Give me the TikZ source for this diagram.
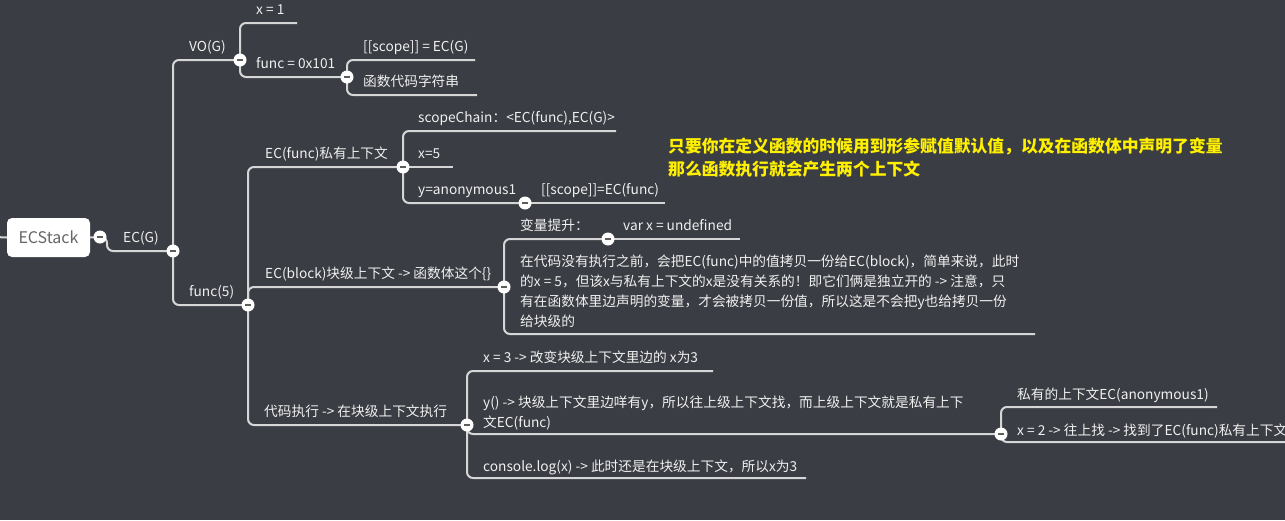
\documentclass[tikz,border=0pt]{standalone}
\usepackage{fontspec}
\setmainfont{Noto Sans CJK SC}
\definecolor{canvas}{HTML}{3A3D43}
\definecolor{wirecol}{HTML}{D6D6D6}
\definecolor{ink}{HTML}{F0F0F0}
\definecolor{rootink}{HTML}{666666}
\definecolor{knobbar}{HTML}{5C5C5C}
\definecolor{hint}{HTML}{FFF000}
\pgfdeclarelayer{back}
\pgfdeclarelayer{wires}
\pgfsetlayers{back,wires,main}
\tikzset{
  lbl/.style={anchor=base west, inner sep=0pt, text=ink, font=\fontsize{13.7}{17}\selectfont},
  wire/.style={draw=wirecol, line width=2pt, rounded corners=6pt},
  knob/.style={circle, fill=white, minimum size=13pt, inner sep=0pt,
    path picture={\fill[knobbar] ([xshift=-3.2pt,yshift=-1.1pt]path picture bounding box.center) rectangle ++(6.4pt,2.2pt);}},
  rootbox/.style={rounded corners=5pt, fill=white, minimum width=83pt, minimum height=39pt,
    inner sep=0pt, text=rootink, font=\fontsize{16}{19}\selectfont},
  hintline/.style={anchor=base west, inner sep=0pt, text=hint, font=\fontsize{16.8}{20}\selectfont\bfseries},
}
\begin{document}
\begin{tikzpicture}[x=1pt,y=-1pt]
\useasboundingbox (0,0) rectangle (1285,520);
\begin{pgfonlayer}{back}
  \fill[canvas] (0,0) rectangle (1285,520);
\end{pgfonlayer}
\clip (0,0) rectangle (1285,520);

% root and collapse knobs
\node[rootbox] (root) at (48.5,237.5) {ECStack};
\coordinate (inlet) at (-5,237);
\node[knob] (kroot) at (100,237) {};
\node[knob] (kecg) at (173,251) {};
\node[knob] (kvog) at (240,60) {};
\node[knob] (kfuncaddr) at (347,77) {};
\node[knob] (kcall) at (248,305) {};
\node[knob] (kpriv) at (403,167) {};
\node[knob] (kanon) at (525,203) {};
\node[knob] (kblock) at (504,287) {};
\node[knob] (khoist) at (608,239) {};
\node[knob] (krun) at (467,425) {};
\node[knob] (kylookup) at (1001,434) {};

% free ends of leaf underlines
\coordinate (x1end) at (297,23);
\coordinate (scopeGend) at (475,60);
\coordinate (codeend) at (477,95);
\coordinate (chainend) at (616,131);
\coordinate (x5end) at (453,167);
\coordinate (scopeFend) at (665,203);
\coordinate (undefend) at (740,239);
\coordinate (parend) at (1035,334);
\coordinate (x3end) at (713,371);
\coordinate (logend) at (806,478);
\coordinate (anonend) at (1217,407);
\coordinate (x2end) at (1300,442);

% connectors
\begin{pgfonlayer}{wires}
  \draw[wire] (inlet) -- (root.west);
  \draw[wire] (root.east) -- (kroot.center);
  \draw[wire] (kroot.center) -- ++(7,0) |- (kecg.center);
  \draw[wire] (kecg.center) |- (kvog.center);
  \draw[wire] (kecg.center) |- (kcall.center);
  \draw[wire] (kvog.center) |- (x1end);
  \draw[wire] (kvog.center) |- (kfuncaddr.center);
  \draw[wire] (kfuncaddr.center) |- (scopeGend);
  \draw[wire] (kfuncaddr.center) |- (codeend);
  \draw[wire] (kcall.center) |- (kpriv.center);
  \draw[wire] (kcall.center) |- (kblock.center);
  \draw[wire] (kcall.center) |- (krun.center);
  \draw[wire] (kpriv.center) |- (chainend);
  \draw[wire] (kpriv.center) -- (x5end);
  \draw[wire] (kpriv.center) |- (kanon.center);
  \draw[wire] (kanon.center) -- (scopeFend);
  \draw[wire] (kblock.center) |- (khoist.center);
  \draw[wire] (kblock.center) |- (parend);
  \draw[wire] (khoist.center) -- (undefend);
  \draw[wire] (krun.center) |- (x3end);
  \draw[wire] (krun.center) |- (kylookup.center);
  \draw[wire] (krun.center) |- (logend);
  \draw[wire] (kylookup.center) |- (anonend);
  \draw[wire] (kylookup.center) |- (x2end);
\end{pgfonlayer}

% topic labels
\node[lbl] (tecg) at (123,242) {EC(G)};
\node[lbl] (tvog) at (189,51) {VO(G)};
\node[lbl] (tx1) at (256,14) {x = 1};
\node[lbl] (tfuncaddr) at (256,68) {func = 0x101};
\node[lbl] (tscopeG) at (363,51) {[[scope]] = EC(G)};
\node[lbl] (tcode) at (363,86) {函数代码字符串};
\node[lbl] (tpriv) at (265,158) {EC(func)私有上下文};
\node[lbl] (tchain) at (418,122) {scopeChain：<EC(func),EC(G)>};
\node[lbl] (tx5) at (418,158) {x=5};
\node[lbl] (tanon) at (418,194) {y=anonymous1};
\node[lbl] (tscopeF) at (541,194) {[[scope]]=EC(func)};
\node[lbl] (tcall) at (189,296) {func(5)};
\node[lbl] (tblock) at (265,278) {EC(block)块级上下文 -> 函数体这个\{\}};
\node[lbl] (thoist) at (520,230) {变量提升：};
\node[lbl] (tundef) at (623,230) {var x = undefined};
\node[lbl] (tpar1) at (520,266) {在代码没有执行之前，会把EC(func)中的值拷贝一份给EC(block)，简单来说，此时};
\node[lbl] (tpar2) at (520,286) {的x = 5，但该x与私有上下文的x是没有关系的！即它们俩是独立开的 -> 注意，只};
\node[lbl] (tpar3) at (520,306) {有在函数体里边声明的变量，才会被拷贝一份值，所以这是不会把y也给拷贝一份};
\node[lbl] (tpar4) at (520,326) {给块级的};
\node[lbl] (trun) at (264,416) {代码执行 -> 在块级上下文执行};
\node[lbl] (tx3) at (483,362) {x = 3 -> 改变块级上下文里边的 x为3};
\node[lbl] (tylook1) at (483,407) {y() -> 块级上下文里边咩有y，所以往上级上下文找，而上级上下文就是私有上下};
\node[lbl] (tylook2) at (483,427) {文EC(func)};
\node[lbl] (tlog) at (483,471) {console.log(x) -> 此时还是在块级上下文，所以x为3};
\node[lbl] (tanonctx) at (1017,399) {私有的上下文EC(anonymous1)};
\node[lbl] (tx2) at (1017,435) {x = 2 -> 往上找 -> 找到了EC(func)私有上下文 ->};

% floating note
\node[hintline] (hint1) at (668,152) {只要你在定义函数的时候用到形参赋值默认值，以及在函数体中声明了变量};
\node[hintline] (hint2) at (668,175) {那么函数执行就会产生两个上下文};
\end{tikzpicture}
\end{document}
